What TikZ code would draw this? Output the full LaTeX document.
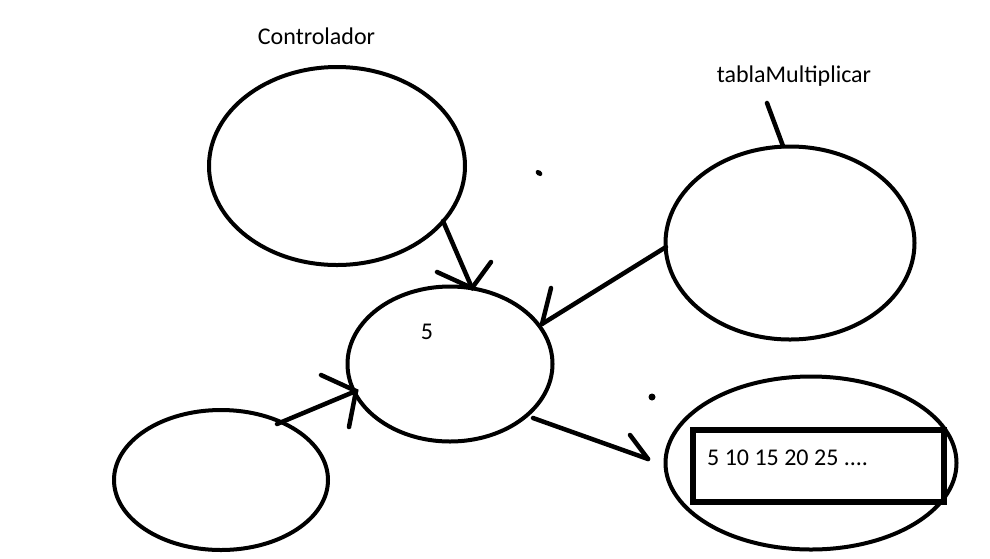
\documentclass[tikz,border=0pt]{standalone}
\usepackage{fontspec}
\setmainfont{Carlito}
\usetikzlibrary{shapes.geometric}
\begin{document}
\begin{tikzpicture}[x=1pt,y=-1pt,
  oval/.style={draw,ellipse,line width=4pt,inner sep=0pt},
  stroke/.style={line width=4.5pt,line cap=round},
  lbl/.style={font=\fontsize{24}{28}\selectfont,anchor=base,inner sep=0pt},
  dotmark/.style={fill=black}]
\useasboundingbox (0,0) rectangle (990,558);
\fill[white] (0,0) rectangle (990,558);
% ellipses
\node[oval,minimum width=256pt,minimum height=198pt] (ctrl) at (337,166) {};
\node[oval,minimum width=249pt,minimum height=193pt] (tabla) at (790,243) {};
\node[oval,minimum width=205pt,minimum height=155pt] (mid) at (450,364) {};
\node[oval,minimum width=214pt,minimum height=140pt] (bl) at (221,480) {};
\node[oval,minimum width=291pt,minimum height=173pt] (br) at (811,463) {};
% rectangle inside bottom-right
\node[draw,line width=6pt,minimum width=251pt,minimum height=72pt,inner sep=0pt] (res) at (818.5,466) {};
% labels
\node[lbl] (tctrl) at (316.5,44) {Controlador};
\node[lbl] (ttabla) at (794,82) {tablaMultiplicar};
\node[lbl] (tfive) at (427,339) {5};
\node[lbl,anchor=base west] (tseq) at (707,465) {5 10 15 20 25 ....};
% connector coordinates
\coordinate (a1s) at (443,221);
\coordinate (a1e) at (472,288);
\coordinate (a1l) at (437,272);
\coordinate (a1r) at (491,262);
\coordinate (a2s) at (666,247);
\coordinate (a2e) at (542,324);
\coordinate (a2l) at (551,288);
\coordinate (a3s) at (277,424);
\coordinate (a3e) at (356,391);
\coordinate (a3l) at (321,375);
\coordinate (a3r) at (349,427);
\coordinate (a4s) at (533,418);
\coordinate (a4e) at (648,459);
\coordinate (a4l) at (630,435);
\coordinate (t1s) at (767,103);
\coordinate (t1e) at (783,146);
% connectors
\draw[stroke] (a1s) -- (a1e);
\draw[stroke] (a1l) -- (a1e) -- (a1r);
\draw[stroke] (a2s) -- (a2e);
\draw[stroke] (a2l) -- (a2e);
\draw[stroke] (a3s) -- (a3e);
\draw[stroke] (a3l) -- (a3e) -- (a3r);
\draw[stroke] (a4s) -- (a4e);
\draw[stroke] (a4l) -- (a4e);
\draw[stroke] (t1s) -- (t1e);
% dots
\fill[dotmark,rotate around={-35:(539,173)}] (539,173) ellipse (3.8pt and 2.6pt);
\fill[dotmark] (652,397) circle (3.5pt);
\end{tikzpicture}
\end{document}
